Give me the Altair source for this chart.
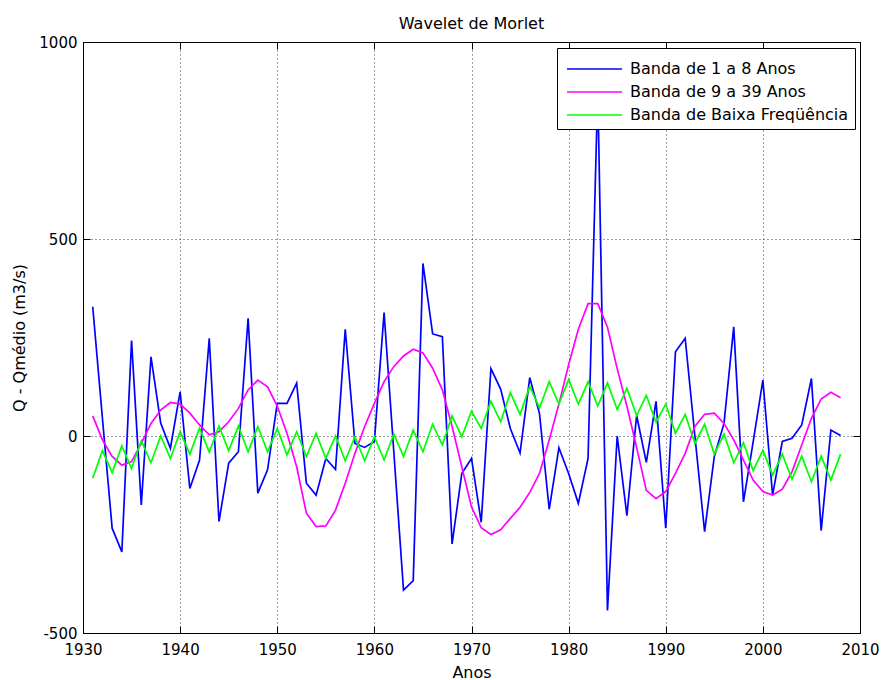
import altair as alt
import pandas as pd

years = list(range(1931, 2009))

banda_1_8 = [328, 45, -234, -294, 242, -175, 201, 33, -31, 112,
             -133, -61, 248, -217, -69, -40, 299, -145, -86, 83,
             83, 134, -120, -150, -57, -85, 271, -19, -29, -14,
             313, -40, -391, -367, 438, 259, 252, -274, -95, -57,
             -219, 171, 119, 19, -43, 148, 57, -186, -30, -95,
             -171, -57, 880, -443, 0, -202, 52, -67, 88, -234,
             214, 248, 0, -243, -52, 32, 277, -167, -15, 142,
             -150, -14, -6, 28, 146, -240, 15, 1]

banda_9_39 = [51, -10, -52, -74, -65, -19, 32, 66, 85, 81,
              58, 28, 3, 11, 36, 70, 117, 142, 125, 76,
              7, -78, -196, -230, -228, -188, -120, -44, 24, 83,
              138, 176, 203, 220, 211, 172, 117, 24, -78, -180,
              -233, -250, -238, -209, -181, -143, -95, -10, 81, 181,
              271, 336, 336, 276, 171, 76, -29, -138, -159, -141,
              -95, -44, 24, 55, 58, 32, -10, -61, -112, -141,
              -150, -135, -91, -23, 45, 94, 111, 97]

banda_baixa = [-107, -37, -93, -25, -82, -12, -68, 0, -57, 11,
               -46, 20, -41, 25, -37, 25, -40, 24, -40, 19,
               -48, 11, -52, 7, -57, 0, -63, -2, -63, -2,
               -61, 5, -52, 15, -40, 30, -23, 51, -2, 63,
               19, 88, 36, 110, 55, 126, 71, 138, 81, 143,
               81, 138, 76, 135, 67, 121, 52, 103, 35, 81,
               7, 55, -19, 30, -46, 5, -68, -17, -88, -36,
               -99, -46, -110, -51, -116, -51, -112, -46]

series_names = ["Banda de 1 a 8 Anos", "Banda de 9 a 39 Anos", "Banda de Baixa Freqüência"]
series_colors = ["#0000ff", "#ff00ff", "#00ff00"]
x_ticks = list(range(1930, 2011, 10))
y_ticks = [-500, 0, 500, 1000]

rows = []
for k, (name, vals) in enumerate(zip(series_names, [banda_1_8, banda_9_39, banda_baixa])):
    for yr, v in zip(years, vals):
        rows.append({"Ano": yr, "Valor": v, "Serie": name, "ordem": k})
df = pd.DataFrame(rows)

FONT = "DejaVu Sans"
FS = 15
TFS = 16
TICK = 7

xscale = alt.Scale(domain=[1930, 2010], nice=False, zero=False)
yscale = alt.Scale(domain=[-500, 1000], nice=False)

axis_common = dict(ticks=False, grid=True, gridDash=[1, 3], gridColor="#000000",
                   gridOpacity=0.75, domainColor="#000000", labelColor="#000000",
                   titleColor="#000000", labelFontSize=FS, titleFontSize=TFS,
                   titleFontWeight="normal", labelFont=FONT, titleFont=FONT,
                   labelExpr="'' + datum.value")


def tick_axis(orient, values):
    return alt.Axis(orient=orient, values=values, offset=-TICK, tickSize=TICK,
                    ticks=True, tickColor="#000000", tickWidth=1,
                    labels=False, domain=False, grid=False, title=None)


main = alt.Chart(df).mark_line(strokeWidth=1.7).encode(
    x=alt.X("Ano:Q", scale=xscale,
            axis=alt.Axis(values=x_ticks, orient="bottom",
                          title="Anos", labelPadding=9, titlePadding=7,
                          labelFlush=False, labelOverlap=False, **axis_common)),
    y=alt.Y("Valor:Q", scale=yscale,
            axis=alt.Axis(values=y_ticks, orient="left",
                          title="Q - Qmédio (m3/s)", labelPadding=6,
                          titlePadding=11, labelFlush=False,
                          labelOverlap=False, **axis_common)),
    color=alt.Color("Serie:N",
                    scale=alt.Scale(domain=series_names, range=series_colors),
                    sort=series_names,
                    legend=alt.Legend(title=None, orient="none",
                                      legendX=474, legendY=6,
                                      symbolType="M-0.8,0H3.2", symbolSize=756,
                                      symbolStrokeWidth=1.7,
                                      labelFontSize=16, labelFont=FONT,
                                      labelColor="#000000", labelOffset=37,
                                      strokeColor="#000000", fillColor="#ffffff",
                                      padding=6, rowPadding=0,
                                      labelLimit=400)),
    order="ordem:Q",
)

ticks_bl = alt.Chart(df).mark_line(strokeOpacity=0).encode(
    x=alt.X("Ano:Q", scale=xscale, axis=tick_axis("bottom", x_ticks)),
    y=alt.Y("Valor:Q", scale=yscale, axis=tick_axis("left", y_ticks)),
    detail="Serie:N",
)

ticks_tr = alt.Chart(df).mark_line(strokeOpacity=0).encode(
    x=alt.X("Ano:Q", scale=xscale, axis=tick_axis("top", x_ticks)),
    y=alt.Y("Valor:Q", scale=yscale, axis=tick_axis("right", y_ticks)),
    detail="Serie:N",
)

chart = alt.layer(main, ticks_bl, ticks_tr).resolve_axis(
    x="independent", y="independent"
).properties(
    width=777,
    height=591,
    title=alt.Title("Wavelet de Morlet", fontSize=TFS, fontWeight="normal",
                    font=FONT, color="#000000", offset=3),
    padding={"left": 83, "top": 42, "right": 24, "bottom": 47},
    autosize=alt.AutoSizeParams(type="none"),
).configure_view(stroke="#000000", strokeWidth=1)

chart.save("out.html", embed_options={"renderer": "svg", "actions": False})
